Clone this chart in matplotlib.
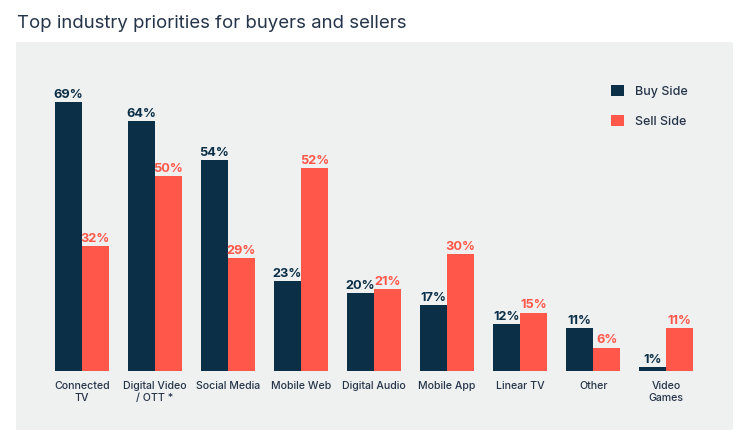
import matplotlib
matplotlib.use("Agg")
import matplotlib.pyplot as plt
from matplotlib.patches import Rectangle
import numpy as np

plt.rcParams['font.family'] = ['Inter', 'DejaVu Sans']

# data
categories = ["Connected\nTV", "Digital Video\n/ OTT *", "Social Media", "Mobile Web",
              "Digital Audio", "Mobile App", "Linear TV", "Other", "Video\nGames"]
buy_side = [69, 64, 54, 23, 20, 17, 12, 11, 1]
sell_side = [32, 50, 29, 52, 21, 30, 15, 6, 11]

navy = "#0b2f47"
red = "#ff584a"
panel = "#eff0f0"
text_col = "#253549"

W, H = 750, 448
fig = plt.figure(figsize=(W / 100, H / 100), dpi=100)

# grey panel behind the chart
fig.patches.append(Rectangle((16 / W, 1 - 430 / H), (733 - 16) / W, (430 - 42) / H,
                             transform=fig.transFigure, facecolor=panel, edgecolor="none", zorder=-5))

fig.text(17 / W, 1 - 24 / H, "Top industry priorities for buyers and sellers",
         fontsize=13.4, color=text_col, va="center", ha="left")

# axes: baseline at y=371px, top at y=42px
ax = fig.add_axes([16 / W, 1 - 371 / H, (732 - 16) / W, (371 - 42) / H])
ax.set_facecolor("none")
ax.set_zorder(2)
ax.set_xlim(-0.9, 8.9)
ax.set_ylim(0, (371 - 42) / 3.9)

x = np.arange(len(categories))
w = 0.37
b1 = ax.bar(x - w / 2, buy_side, w, color=navy, label="Buy Side")
b2 = ax.bar(x + w / 2, sell_side, w, color=red, label="Sell Side")

for xi, v in zip(x, buy_side):
    ax.text(xi - w / 2, v + 0.3, f"{v}%", ha="center", va="bottom",
            fontsize=9.2, fontweight="bold", color=navy)
for xi, v in zip(x, sell_side):
    ax.text(xi + w / 2, v + 0.3, f"{v}%", ha="center", va="bottom",
            fontsize=9.2, fontweight="bold", color=red)

ax.set_xticks(x)
ax.set_xticklabels(categories, fontsize=7.6, fontweight="medium", color=text_col, linespacing=1.3)
ax.tick_params(axis="x", length=0, pad=7)
ax.set_yticks([])
for s in ax.spines.values():
    s.set_visible(False)

leg = ax.legend(loc="upper left", bbox_to_anchor=((600 - 16) / (732 - 16), 1 - (74 - 42) / (371 - 42)),
                frameon=False, prop={"size": 9, "weight": "medium"}, handlelength=1.0, handleheight=1.0,
                labelspacing=1.35, handletextpad=0.9)
for t in leg.get_texts():
    t.set_color(text_col)

fig.savefig("out.png", dpi=100)
